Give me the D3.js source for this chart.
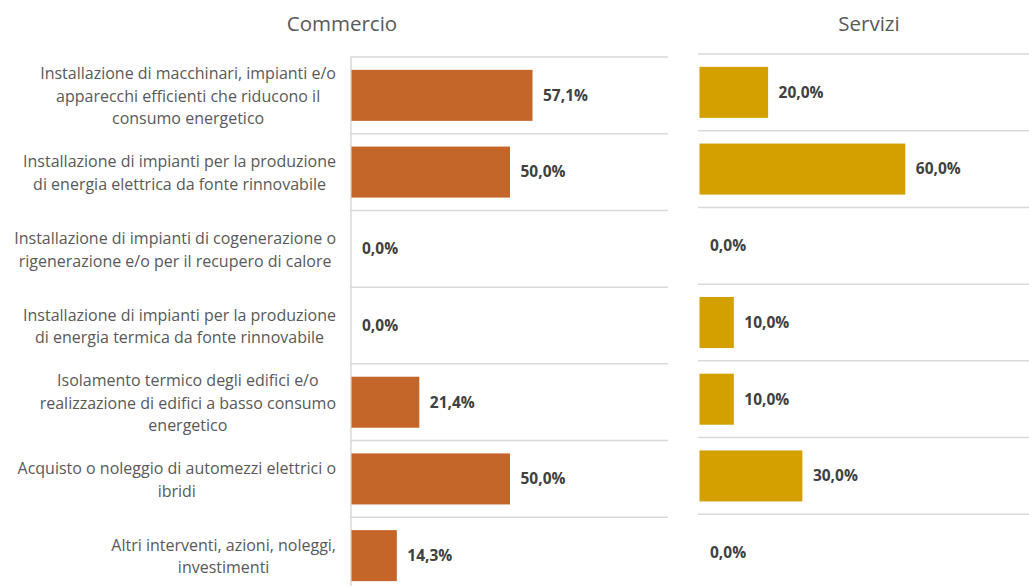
<!DOCTYPE html>
<html>
<head>
<meta charset="utf-8">
<script src="https://cdn.jsdelivr.net/npm/d3@7"></script>
<style>
  html, body { margin: 0; padding: 0; background: #fff; }
  svg { display: block; }
  text { font-family: "Open Sans", "Noto Sans", "Liberation Sans", sans-serif; }
</style>
</head>
<body>
<svg id="chart" width="1029" height="586"></svg>
<script>
// Interventions (line breaks as wrapped in the chart)
const categories = [
  "Installazione di macchinari, impianti e/o\napparecchi efficienti che riducono il\nconsumo energetico",
  "Installazione di impianti per la produzione\ndi energia elettrica da fonte rinnovabile",
  "Installazione di impianti di cogenerazione o\nrigenerazione e/o per il recupero di calore",
  "Installazione di impianti per la produzione\ndi energia termica da fonte rinnovabile",
  "Isolamento termico degli edifici e/o\nrealizzazione di edifici a basso consumo\nenergetico",
  "Acquisto o noleggio di automezzi elettrici o\nibridi",
  "Altri interventi, azioni, noleggi,\ninvestimenti"
];
const panelTitles = ["Commercio", "Servizi"];
const commercioValues = [57.1, 50.0, 0.0, 0.0, 21.4, 50.0, 14.3];
const serviziValues   = [20.0, 60.0, 0.0, 10.0, 10.0, 30.0, 0.0];

const svg = d3.select("#chart");
const fmt = v => v.toFixed(1).replace(".", ",") + "%";
const gridColor = "#d9d9d9";

const panels = [
  { title: panelTitles[0], values: commercioValues, color: "#C4652A",
    x0: 351, x1: 668, y0: 57, y1: 594, titleX: 342, axisLine: true, labels: true },
  { title: panelTitles[1], values: serviziValues, color: "#D4A000",
    x0: 699, x1: 1042, y0: 54, y1: 591, titleX: 869, axisLine: false, labels: false }
];

panels.forEach(p => {
  const x = d3.scaleLinear().domain([0, 100]).range([p.x0, p.x1]);
  const y = d3.scaleBand().domain(d3.range(categories.length))
    .range([p.y0, p.y1]).paddingInner(0.335).paddingOuter(0.1675);
  const step = y.step();
  const g = svg.append("g");

  // title
  g.append("text")
    .attr("x", p.titleX).attr("y", 31)
    .attr("text-anchor", "middle")
    .attr("font-size", 20.5).attr("fill", "#595959")
    .text(p.title);

  // horizontal gridlines at band boundaries
  const bounds = d3.range(categories.length + 1).map(i => p.y0 + i * step);
  g.selectAll("line.grid").data(bounds).join("line")
    .attr("class", "grid")
    .attr("x1", p.x0 - 1).attr("x2", p.x1)
    .attr("y1", d => d).attr("y2", d => d)
    .attr("stroke", gridColor).attr("stroke-width", 1.5);

  if (p.axisLine) {
    g.append("line")
      .attr("x1", p.x0).attr("x2", p.x0)
      .attr("y1", p.y0).attr("y2", p.y1)
      .attr("stroke", gridColor).attr("stroke-width", 1.5);
  }

  // bars
  g.selectAll("rect.bar").data(p.values).join("rect")
    .attr("class", "bar")
    .attr("x", x(0) + 0.5)
    .attr("y", (d, i) => y(i))
    .attr("width", d => Math.max(0, x(d) - x(0)))
    .attr("height", y.bandwidth())
    .attr("fill", p.color);

  // value labels
  g.selectAll("text.val").data(p.values).join("text")
    .attr("class", "val")
    .attr("x", d => x(d) + 11)
    .attr("y", (d, i) => y(i) + y.bandwidth() / 2)
    .attr("dy", "0.35em")
    .attr("font-size", 15.5).attr("font-weight", "bold")
    .attr("fill", "#404040")
    .text(fmt);

  // category labels: lines centered within a block right-aligned to the axis
  if (p.labels) {
    const right = p.x0 - 15;
    const lh = 22.5;
    categories.forEach((c, i) => {
      const lines = c.split("\n");
      const t = g.append("text")
        .attr("font-size", 16).attr("fill", "#595959")
        .attr("text-anchor", "middle");
      const cy = y(i) + y.bandwidth() / 2 + 1;
      const spans = lines.map((ln, k) => t.append("tspan")
        .attr("y", cy + (k - (lines.length - 1) / 2) * lh)
        .attr("dy", "0.35em")
        .text(ln));
      const maxW = d3.max(spans, s => s.node().getComputedTextLength());
      spans.forEach(s => s.attr("x", right - maxW / 2));
    });
  }
});
</script>
</body>
</html>
